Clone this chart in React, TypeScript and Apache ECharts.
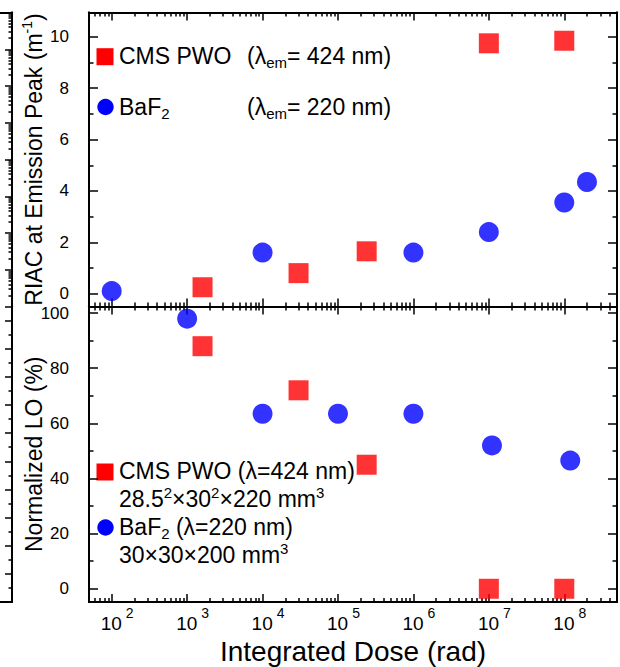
import React, { useEffect, useRef } from 'react';
import * as echarts from 'echarts';

// Integrated dose (rad) and measured values
const doseDecades = [1e2, 1e3, 1e4, 1e5, 1e6, 1e7, 1e8];

const riacPwoDose = [1.6e3, 3e4, 2.4e5, 1e7, 1e8];
const riacPwoValue = [0.25, 0.8, 1.65, 9.75, 9.85];

const riacBaf2Dose = [1e2, 1e4, 1e6, 1e7, 1e8, 2e8];
const riacBaf2Value = [0.1, 1.6, 1.6, 2.4, 3.55, 4.35];

const loPwoDose = [1.6e3, 3e4, 2.4e5, 1e7, 1e8];
const loPwoValue = [88, 72, 45, 0, 0];

const loBaf2Dose = [1e3, 1e4, 1e5, 1e6, 1.1e7, 1.2e8];
const loBaf2Value = [98, 63.5, 63.5, 63.5, 52, 46.5];

const riacMajor = [0, 2, 4, 6, 8, 10];
const riacMinor = [1, 3, 5, 7, 9];
const loMajor = [0, 20, 40, 60, 80, 100];
const loMinor = [10, 30, 50, 70, 90];

const X_MIN = 50;
const X_MAX = 5e8;

const RED = '#ff0000';
const BLUE = '#0000ff';
const BLACK = '#000000';
const FONT = '"Liberation Sans", Arial, Helvetica, sans-serif';

// tick positions of a log scale, expressed as exponents
function logMinorExps(lo: number, hi: number): number[] {
  const out: number[] = [];
  for (let e = -1; e <= 9; e++) {
    for (let m = 2; m <= 9; m++) {
      const v = m * Math.pow(10, e);
      if (v > lo && v < hi) out.push(Math.log10(v));
    }
  }
  return out;
}

function logMajorExps(lo: number, hi: number): number[] {
  const out: number[] = [];
  for (let e = -1; e <= 9; e++) {
    const v = Math.pow(10, e);
    if (v >= lo && v <= hi) out.push(e);
  }
  return out;
}

const pairs = (xs: number[], ys: number[]) => xs.map((x, i) => [x, ys[i]]);

const lineStyle = { color: BLACK, width: 2 };
const tickLine = { color: BLACK, width: 1.5 };

// log axis that carries the data and the 10^n labels
function doseAxis(gridIndex: number, position: string, withLabels = false): any {
  return {
    type: 'log',
    logBase: 10,
    gridIndex,
    position,
    min: X_MIN,
    max: X_MAX,
    axisLine: { show: true, onZero: false, lineStyle },
    axisTick: { show: false },
    axisLabel: withLabels
      ? {
          show: true,
          customValues: doseDecades,
          margin: 4,
          formatter: (v: number) => `{p|}{b|10}{s|${Math.round(Math.log10(v))}}`,
          rich: {
            p: { width: 11, height: 27 },
            b: { fontSize: 19, lineHeight: 19, verticalAlign: 'bottom', fontFamily: FONT, color: BLACK },
            s: { fontSize: 14, lineHeight: 14, verticalAlign: 'top', padding: [0, 0, 0, 4], fontFamily: FONT, color: BLACK },
          },
        }
      : { show: false },
    splitLine: { show: false },
  };
}

// tick-only axis laid over a log range (values are exponents)
function exponentTickAxis(
  gridIndex: number,
  position: string,
  lo: number,
  hi: number,
  ticks: number[],
  length: number
): any {
  return {
    type: 'value',
    gridIndex,
    position,
    min: Math.log10(lo),
    max: Math.log10(hi),
    axisLine: { show: true, onZero: false, lineStyle },
    axisTick: { show: true, inside: true, length, customValues: ticks, lineStyle: tickLine },
    axisLabel: { show: false },
    splitLine: { show: false },
  };
}

function valueAxis(
  gridIndex: number,
  position: string,
  min: number,
  max: number,
  ticks: number[],
  length: number,
  withLabels = false
): any {
  return {
    type: 'value',
    gridIndex,
    position,
    min,
    max,
    axisLine: { show: true, onZero: false, lineStyle },
    axisTick: { show: true, inside: true, length, customValues: ticks, lineStyle: tickLine },
    axisLabel: withLabels
      ? { show: true, customValues: ticks, margin: 20, fontSize: 17, color: BLACK, fontFamily: FONT }
      : { show: false },
    splitLine: { show: false },
  };
}

function App() {
  const ref = useRef<HTMLDivElement>(null);

  useEffect(() => {
    if (!ref.current) return;
    const chart = echarts.init(ref.current, null, { renderer: 'svg' });

    const xMajor = logMajorExps(X_MIN, X_MAX);
    const xMinor = logMinorExps(X_MIN, X_MAX);
    const stripMajor = logMajorExps(1, 1e8);
    const stripMinor = logMinorExps(1, 1e8);
    const stripLinMajor = [0, 10, 20, 30, 40, 50, 60, 70, 80, 90, 100];
    const stripLinMinor = [5, 15, 25, 35, 45, 55, 65, 75, 85, 95];

    const mainText = { fontSize: 23, lineHeight: 28, fontFamily: FONT, fill: BLACK, verticalAlign: 'top' as const };
    const legendRich = {
      sub: { fontSize: 15, lineHeight: 11, verticalAlign: 'bottom', fontFamily: FONT, fill: BLACK },
      sup: { fontSize: 15, lineHeight: 15, verticalAlign: 'top', fontFamily: FONT, fill: BLACK },
    };

    const yName = {
      nameLocation: 'middle',
      nameRotate: 90,
      nameGap: 41,
      nameMoveOverlap: false,
    };

    const option: any = {
      animation: false,
      backgroundColor: '#ffffff',
      grid: [
        { left: 89, top: 12.5, width: 528, height: 294, outerBoundsMode: 'none' },
        { left: 89, top: 306.5, width: 528, height: 295.5, outerBoundsMode: 'none' },
        { left: -40, top: 12.5, width: 52, height: 294, outerBoundsMode: 'none' },
        { left: -40, top: 306.5, width: 52, height: 295.5, outerBoundsMode: 'none' },
      ],
      xAxis: [
        doseAxis(0, 'bottom'),
        exponentTickAxis(0, 'bottom', X_MIN, X_MAX, xMajor, 8),
        exponentTickAxis(0, 'bottom', X_MIN, X_MAX, xMinor, 4),
        doseAxis(0, 'top'),
        exponentTickAxis(0, 'top', X_MIN, X_MAX, xMajor, 8),
        exponentTickAxis(0, 'top', X_MIN, X_MAX, xMinor, 4),
        {
          ...doseAxis(1, 'bottom', true),
          name: 'Integrated Dose (rad)',
          nameLocation: 'middle',
          nameGap: 38,
          nameMoveOverlap: false,
          nameTextStyle: { fontSize: 28, lineHeight: 22, color: BLACK, fontFamily: FONT },
        },
        exponentTickAxis(1, 'bottom', X_MIN, X_MAX, xMajor, 8),
        exponentTickAxis(1, 'bottom', X_MIN, X_MAX, xMinor, 4),
        doseAxis(1, 'top'),
        exponentTickAxis(1, 'top', X_MIN, X_MAX, xMajor, 8),
        exponentTickAxis(1, 'top', X_MIN, X_MAX, xMinor, 4),
        {
          type: 'value', gridIndex: 2, position: 'top', min: 0, max: 1,
          axisLine: { show: true, onZero: false, lineStyle },
          axisTick: { show: false }, axisLabel: { show: false }, splitLine: { show: false },
        },
        {
          type: 'value', gridIndex: 3, position: 'bottom', min: 0, max: 1,
          axisLine: { show: true, onZero: false, lineStyle },
          axisTick: { show: false }, axisLabel: { show: false }, splitLine: { show: false },
        },
      ],
      yAxis: [
        {
          ...valueAxis(0, 'left', -0.5, 10.95, riacMajor, 9, true),
          ...yName,
          name: 'RIAC at Emission Peak (m{sup|-1})',
          nameTextStyle: {
            fontSize: 23,
            lineHeight: 28,
            color: BLACK,
            fontFamily: FONT,
            rich: { sup: { fontSize: 14, lineHeight: 14, verticalAlign: 'top', color: BLACK, fontFamily: FONT } },
          },
        },
        valueAxis(0, 'left', -0.5, 10.95, riacMinor, 4.5),
        valueAxis(0, 'right', -0.5, 10.95, riacMajor, 9),
        valueAxis(0, 'right', -0.5, 10.95, riacMinor, 4.5),
        {
          ...valueAxis(1, 'left', -4.8, 102.4, loMajor, 9, true),
          ...yName,
          name: 'Normalized LO (%)',
          nameTextStyle: { fontSize: 23, lineHeight: 28, color: BLACK, fontFamily: FONT },
        },
        valueAxis(1, 'left', -4.8, 102.4, loMinor, 4.5),
        valueAxis(1, 'right', -4.8, 102.4, loMajor, 9),
        valueAxis(1, 'right', -4.8, 102.4, loMinor, 4.5),
        exponentTickAxis(2, 'right', 1, 1e8, stripMajor, 7),
        exponentTickAxis(2, 'right', 1, 1e8, stripMinor, 3.5),
        valueAxis(3, 'right', 0, 105, stripLinMajor, 7),
        valueAxis(3, 'right', 0, 105, stripLinMinor, 3.5),
      ],
      series: [
        {
          name: 'CMS PWO RIAC', type: 'scatter', xAxisIndex: 0, yAxisIndex: 0,
          symbol: 'rect', symbolSize: 20, itemStyle: { color: RED },
          data: pairs(riacPwoDose, riacPwoValue),
        },
        {
          name: 'BaF2 RIAC', type: 'scatter', xAxisIndex: 0, yAxisIndex: 0,
          symbol: 'circle', symbolSize: 20, itemStyle: { color: BLUE },
          data: pairs(riacBaf2Dose, riacBaf2Value),
        },
        {
          name: 'CMS PWO LO', type: 'scatter', xAxisIndex: 6, yAxisIndex: 4,
          symbol: 'rect', symbolSize: 20, itemStyle: { color: RED },
          data: pairs(loPwoDose, loPwoValue),
        },
        {
          name: 'BaF2 LO', type: 'scatter', xAxisIndex: 6, yAxisIndex: 4,
          symbol: 'circle', symbolSize: 20, itemStyle: { color: BLUE },
          data: pairs(loBaf2Dose, loBaf2Value),
        },
      ],
      graphic: [
        // upper panel key
        { type: 'rect', shape: { x: 96.5, y: 48.2, width: 17, height: 17 }, style: { fill: RED } },
        { type: 'text', x: 119, y: 42, style: { ...mainText, text: 'CMS PWO', rich: legendRich } },
        { type: 'text', x: 247, y: 42, style: { ...mainText, text: '(λ{sub|em}= 424 nm)', rich: legendRich } },
        { type: 'circle', shape: { cx: 105.5, cy: 107, r: 8.2 }, style: { fill: BLUE } },
        { type: 'text', x: 119, y: 93, style: { ...mainText, text: 'BaF{sub|2}', rich: legendRich } },
        { type: 'text', x: 247, y: 93, style: { ...mainText, text: '(λ{sub|em}= 220 nm)', rich: legendRich } },
        // lower panel key
        { type: 'rect', shape: { x: 96.5, y: 463.5, width: 17, height: 17 }, style: { fill: RED } },
        { type: 'circle', shape: { cx: 105.5, cy: 527.5, r: 8.2 }, style: { fill: BLUE } },
        {
          type: 'text', x: 119, y: 457,
          style: {
            ...mainText,
            text:
              'CMS PWO (λ=424 nm)\n28.5{sup|2}×30{sup|2}×220 mm{sup|3}\nBaF{sub|2} (λ=220 nm)\n30×30×200 mm{sup|3}',
            rich: legendRich,
          },
        },
      ],
    };

    chart.setOption(option);
    return () => chart.dispose();
  }, []);

  return (
    <div
      ref={ref}
      style={{ position: 'fixed', left: 0, top: 0, width: 620, height: 667, background: '#ffffff' }}
    />
  );
}

export default App;
